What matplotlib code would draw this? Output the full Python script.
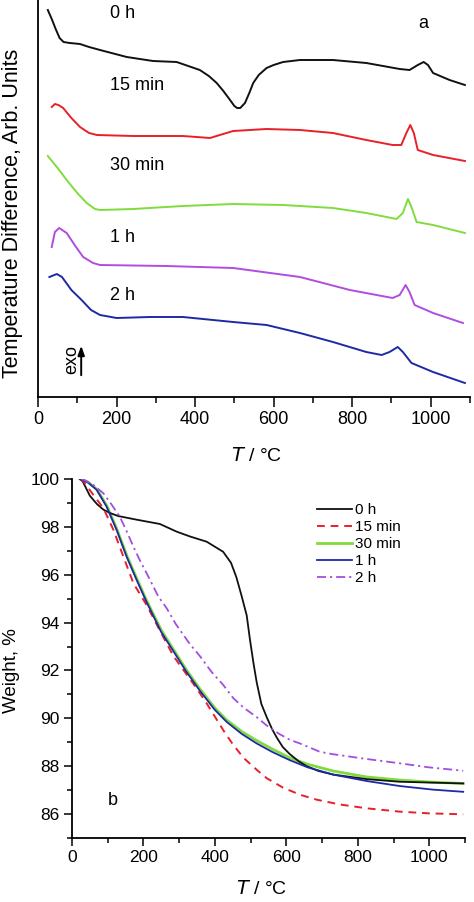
"""DTA (a) and TGA (b) curves for milled samples."""

import matplotlib

matplotlib.use("Agg")
import matplotlib.pyplot as plt
from matplotlib.ticker import MultipleLocator

plt.rcParams["font.family"] = ["Liberation Sans", "DejaVu Sans"]

# ---- panel a: DTA, arbitrary units (stacked curves) ----
dta_labels = ["0 h", "15 min", "30 min", "1 h", "2 h"]
dta_colors = ["#111111", "#e8202a", "#80dc3c", "#b04de0", "#1d2aa8"]

dta_0h_t = [25, 35, 45, 55, 65, 81, 107, 130, 158, 226, 293, 353, 412, 435, 455, 472,
            489, 500, 507, 515, 527, 538, 548, 562, 582, 600, 624, 667, 751, 836, 921,
            946, 967, 982, 993, 1006, 1048, 1087]
dta_0h_v = [3.87, 3.78, 3.68, 3.59, 3.55, 3.54, 3.53, 3.50, 3.47, 3.40, 3.36, 3.35, 3.27,
            3.21, 3.14, 3.06, 2.97, 2.91, 2.89, 2.89, 2.94, 3.04, 3.14, 3.22, 3.29, 3.32,
            3.35, 3.37, 3.37, 3.34, 3.28, 3.27, 3.32, 3.35, 3.32, 3.24, 3.17, 3.12]

dta_15m_t = [35, 43, 52, 64, 85, 107, 130, 150, 242, 369, 438, 463, 497, 582, 667, 751,
             836, 903, 925, 938, 948, 957, 967, 1006, 1087]
dta_15m_v = [2.90, 2.93, 2.92, 2.89, 2.79, 2.70, 2.64, 2.62, 2.61, 2.61, 2.59, 2.62, 2.66,
             2.68, 2.67, 2.64, 2.57, 2.52, 2.52, 2.64, 2.72, 2.64, 2.47, 2.42, 2.36]

dta_30m_t = [25, 50, 73, 100, 124, 145, 158, 242, 369, 497, 624, 751, 836, 913, 929, 942,
             951, 964, 1006, 1087]
dta_30m_v = [2.41, 2.29, 2.17, 2.04, 1.94, 1.88, 1.87, 1.88, 1.91, 1.93, 1.92, 1.89, 1.84,
             1.78, 1.84, 1.98, 1.90, 1.75, 1.72, 1.64]

dta_1h_t = [35, 43, 54, 73, 95, 115, 140, 158, 327, 497, 667, 794, 903, 921, 936, 946,
            959, 1006, 1082]
dta_1h_v = [1.50, 1.65, 1.69, 1.64, 1.51, 1.40, 1.34, 1.32, 1.31, 1.29, 1.20, 1.07, 0.99,
            1.02, 1.12, 1.05, 0.92, 0.84, 0.74]

dta_2h_t = [29, 48, 61, 85, 111, 135, 158, 200, 285, 369, 497, 582, 667, 751, 836, 875,
            895, 916, 929, 951, 1006, 1087]
dta_2h_v = [1.20, 1.23, 1.20, 1.07, 0.97, 0.87, 0.82, 0.79, 0.80, 0.80, 0.75, 0.72, 0.64,
            0.55, 0.45, 0.42, 0.45, 0.50, 0.45, 0.34, 0.25, 0.14]

dta_label_y = [3.84, 3.12, 2.31, 1.60, 1.02]

# ---- panel b: TGA, weight % ----
tga_labels = ["0 h", "15 min", "30 min", "1 h", "2 h"]
tga_colors = ["#111111", "#e8202a", "#80dc3c", "#1d2aa8", "#a24ee0"]

tga_0h_t = [22, 30, 50, 70, 88, 106, 130, 181, 246, 293, 330, 377, 423, 445, 460, 475, 489,
            498, 508, 517, 530, 545, 560, 573, 590, 610, 635, 657, 690, 731, 825, 918, 1095]
tga_0h_w = [100, 99.9, 99.3, 98.95, 98.72, 98.58, 98.45, 98.3, 98.12, 97.8, 97.6, 97.38,
            96.96, 96.5, 95.9, 95.1, 94.3, 93.3, 92.3, 91.5, 90.6, 90.05, 89.55, 89.2, 88.8,
            88.5, 88.2, 88.0, 87.8, 87.65, 87.46, 87.35, 87.28]

tga_15m_t = [22, 32, 60, 88, 116, 144, 172, 209, 250, 284, 320, 349, 378, 405, 430, 451,
             480, 517, 545, 591, 640, 685, 750, 825, 918, 1000, 1095]
tga_15m_w = [100, 99.9, 99.33, 98.78, 97.87, 96.75, 95.64, 94.73, 93.55, 92.6, 91.85, 91.25,
             90.6, 89.95, 89.35, 88.9, 88.35, 87.85, 87.5, 87.1, 86.8, 86.6, 86.4, 86.24,
             86.1, 86.03, 85.99]

tga_30m_t = [23, 45, 69, 97, 125, 153, 181, 209, 250, 284, 320, 358, 400, 433, 475, 517,
             560, 610, 660, 731, 825, 918, 1011, 1095]
tga_30m_w = [100, 99.87, 99.58, 98.9, 97.93, 96.82, 95.85, 94.92, 93.68, 92.88, 92.03,
             91.23, 90.43, 89.93, 89.45, 89.07, 88.72, 88.35, 88.08, 87.8, 87.55, 87.42,
             87.33, 87.28]

tga_1h_t = [23, 45, 69, 97, 125, 153, 181, 209, 250, 284, 320, 358, 400, 433, 475, 517,
            560, 610, 660, 731, 825, 918, 1011, 1095]
tga_1h_w = [100, 99.85, 99.55, 98.84, 97.87, 96.75, 95.78, 94.85, 93.6, 92.8, 91.95, 91.15,
            90.35, 89.85, 89.35, 88.95, 88.6, 88.25, 87.95, 87.65, 87.38, 87.17, 87.02, 86.93]

tga_2h_t = [26, 36, 60, 88, 110, 134, 152, 172, 190, 209, 242, 265, 290, 330, 358, 390,
            423, 451, 480, 517, 545, 580, 610, 638, 694, 731, 825, 918, 1000, 1095]
tga_2h_w = [100, 99.95, 99.75, 99.4, 98.95, 98.42, 97.85, 97.17, 96.6, 96.06, 95.08, 94.6,
            93.95, 93.1, 92.6, 91.95, 91.4, 90.85, 90.45, 90.05, 89.7, 89.35, 89.1, 88.95,
            88.6, 88.5, 88.3, 88.12, 87.95, 87.81]

W, H = 474, 902
fig = plt.figure(figsize=(W / 100, H / 100), dpi=100)


def frac(x0, y0, x1, y1):
    return [x0 / W, 1 - y1 / H, (x1 - x0) / W, (y1 - y0) / H]


# ---------------- panel a ----------------
ax1 = fig.add_axes(frac(38, 0, 470, 397))
dta = [(dta_0h_t, dta_0h_v), (dta_15m_t, dta_15m_v), (dta_30m_t, dta_30m_v),
       (dta_1h_t, dta_1h_v), (dta_2h_t, dta_2h_v)]
for (t, v), color in zip(dta, dta_colors):
    ax1.plot(t, v, color=color, lw=1.4, solid_joinstyle="round")
for label, y in zip(dta_labels, dta_label_y):
    ax1.text(183, y, label, fontsize=13, ha="left", va="center")
ax1.text(980, 3.74, "a", fontsize=13, ha="center", va="center")
ax1.text(86, 0.38, "exo", fontsize=13, rotation=90, ha="center", va="center")
ax1.annotate("", xy=(110, 0.54), xytext=(110, 0.19),
             arrowprops=dict(arrowstyle="-|>,head_length=0.55,head_width=0.2",
                             color="black", lw=1.4))

ax1.set_xlim(0, 1100)
ax1.set_ylim(0, 3.97)
ax1.set_yticks([])
ax1.xaxis.set_major_locator(MultipleLocator(200))
ax1.xaxis.set_minor_locator(MultipleLocator(100))
ax1.tick_params(axis="x", which="major", direction="out", length=7, width=1.1,
                labelsize=13, pad=3)
ax1.tick_params(axis="x", which="minor", direction="out", length=4, width=1.1)
for side in ("top", "right"):
    ax1.spines[side].set_visible(False)
for side in ("left", "bottom"):
    ax1.spines[side].set_linewidth(1.3)
fig.text(257 / W, 1 - 456 / H, r"$\it{T}$ / °C", fontsize=14, ha="center", va="center")
fig.text(13 / W, 1 - 213 / H, "Temperature Difference, Arb. Units", fontsize=15.5,
         rotation=90, ha="center", va="center")

# ---------------- panel b ----------------
ax2 = fig.add_axes(frac(72, 479, 465, 838))
tga = [(tga_0h_t, tga_0h_w), (tga_15m_t, tga_15m_w), (tga_30m_t, tga_30m_w),
       (tga_1h_t, tga_1h_w), (tga_2h_t, tga_2h_w)]
styles = ["-", (0, (4, 3)), "-", "-", (0, (5, 2.2, 1.2, 2.2))]
widths = [1.3, 1.4, 2.0, 1.3, 1.3]
order = [2, 0, 1, 3, 4]
lines = {}
for i in order:
    t, w = tga[i]
    (lines[i],) = ax2.plot(t, w, color=tga_colors[i], lw=widths[i], ls=styles[i],
                           label=tga_labels[i])
ax2.legend([lines[i] for i in range(5)], tga_labels, loc="upper left",
           bbox_to_anchor=(317 / W, 1 - 503 / H), bbox_transform=fig.transFigure,
           frameon=False, fontsize=11, handlelength=2.3, handletextpad=0.2,
           labelspacing=0.2, borderpad=0, borderaxespad=0)
ax2.text(115, 86.55, "b", fontsize=13, ha="center", va="center")

ax2.set_xlim(0, 1100)
ax2.set_ylim(85, 100)
ax2.xaxis.set_major_locator(MultipleLocator(200))
ax2.xaxis.set_minor_locator(MultipleLocator(100))
ax2.set_yticks([86, 88, 90, 92, 94, 96, 98, 100])
ax2.yaxis.set_minor_locator(MultipleLocator(1))
ax2.tick_params(which="major", direction="out", length=6, width=1.1, labelsize=12.5,
                pad=3)
ax2.tick_params(which="minor", direction="out", length=3.5, width=1.1)
for side in ("top", "right"):
    ax2.spines[side].set_visible(False)
for side in ("left", "bottom"):
    ax2.spines[side].set_linewidth(1.3)
fig.text(262 / W, 1 - 889 / H, r"$\it{T}$ / °C", fontsize=14, ha="center", va="center")
fig.text(12 / W, 1 - 671 / H, "Weight, %", fontsize=13.5, rotation=90,
         ha="center", va="center")

fig.savefig("out.png", dpi=100)
